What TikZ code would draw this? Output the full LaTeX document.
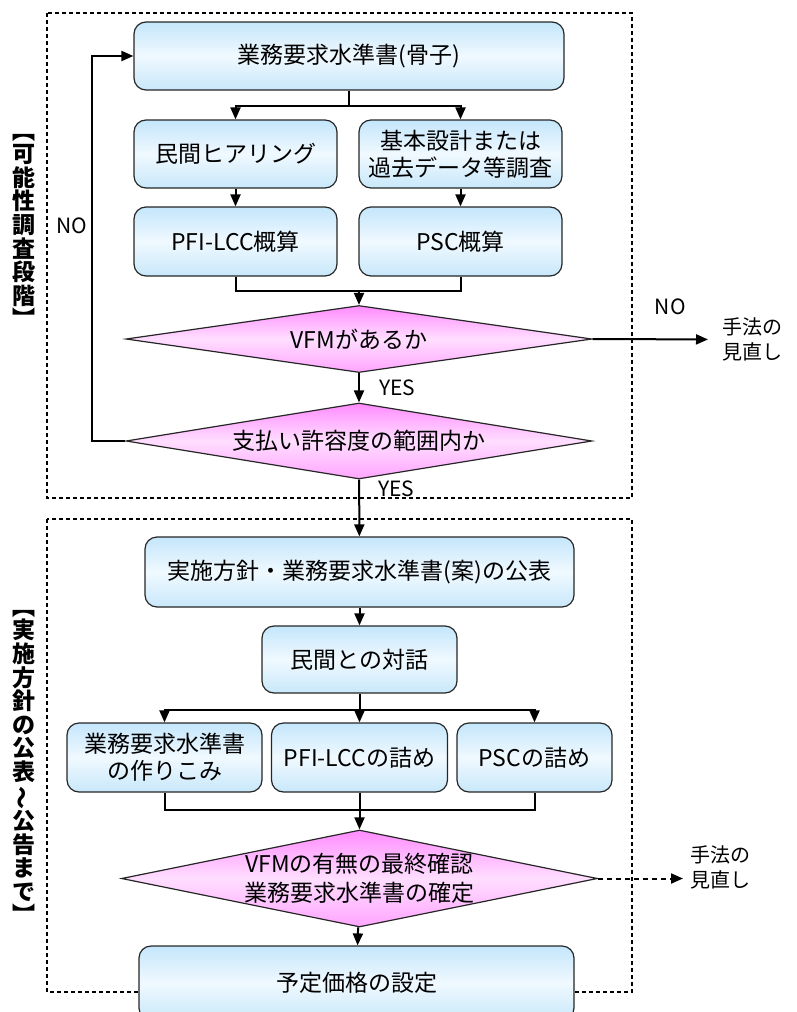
\documentclass[tikz,border=0pt]{standalone}
\usepackage{fontspec}
\setmainfont{Noto Sans CJK JP}
\usepackage{graphicx}
\usepackage{tikz}
\usetikzlibrary{calc, positioning, arrows.meta, shapes.geometric}
\definecolor{boxtop}{RGB}{196,230,251}
\definecolor{boxmid}{RGB}{240,249,255}
\definecolor{boxbot}{RGB}{200,232,250}
\definecolor{dectop}{RGB}{255,140,255}
\definecolor{decmid}{RGB}{255,222,255}
\definecolor{decbot}{RGB}{255,165,255}

\begin{document}
\begin{tikzpicture}[x=1pt, y=-1pt, >={Triangle[length=12pt,width=10pt]},
  blk/.style={draw=black!85, line width=1.2pt, rounded corners=12pt, top color=boxtop, bottom color=boxbot, middle color=boxmid, align=center, inner sep=0pt, font=\fontsize{23}{27}\selectfont},
  dec/.style={diamond, draw=black!85, line width=1.2pt, top color=dectop, bottom color=decbot, middle color=decmid, inner sep=0pt, align=center, font=\fontsize{23}{29}\selectfont},
  dectxt/.style={inner sep=0pt, align=center, font=\fontsize{23}{29}\selectfont},
  lnk/.style={line width=2pt},
  lbl/.style={inner sep=0pt, font=\fontsize{21}{25}\selectfont},
  side/.style={anchor=west, inner sep=0pt, align=left, font=\fontsize{20}{25}\selectfont},
  vlbl/.style={inner sep=0pt, align=center, font=\fontsize{23}{23.6}\selectfont\bfseries},
  frm/.style={line width=1.2pt, dash pattern=on 4pt off 3pt}]
  \useasboundingbox (0,0) rectangle (796,1012);
  \clip (0,0) rectangle (796,1012);

  % phase frames
  \draw[frm] (47,13) rectangle (632,498);
  \draw[frm] (47,519) rectangle (632,992);
  \node[vlbl] (ph1) at (24,231) {︻\\可\\能\\性\\調\\査\\段\\階\\︼};
  \node[vlbl] (ph2) at (24,767) {︻\\実\\施\\方\\針\\の\\公\\表\\\rotatebox[origin=c]{90}{～}\\公\\告\\ま\\で\\︼};

  % feasibility study
  \node[blk, minimum width=430pt, minimum height=68pt] (req) at (349,56) {業務要求水準書(骨子)};
  \node[blk, minimum width=203pt, minimum height=68pt] (hear) at (235.5,154) {民間ヒアリング};
  \node[blk, minimum width=203pt, minimum height=68pt] (basic) at (460.5,154) {基本設計または\\過去データ等調査};
  \node[blk, minimum width=203pt, minimum height=69pt] (lcc) at (235.5,241.5) {PFI-LCC概算};
  \node[blk, minimum width=203pt, minimum height=69pt] (psc) at (460.5,241.5) {PSC概算};
  \node[dec, aspect=7, minimum width=466pt, minimum height=67pt] (vfm) at (359,339) {VFMがあるか};
  \node[dec, aspect=6.1, minimum width=466pt, minimum height=76pt] (pay) at (359,441) {支払い許容度の範囲内か};
  \node[side] (rev1) at (722,339.5) {手法の\\見直し};

  % public announcement
  \node[blk, minimum width=429pt, minimum height=70pt] (pub) at (359.5,572) {実施方針・業務要求水準書(案)の公表};
  \node[blk, minimum width=195pt, minimum height=67pt] (talk) at (359.5,659.5) {民間との対話};
  \node[blk, minimum width=195pt, minimum height=69pt] (spec) at (164.5,757.5) {業務要求水準書\\の作りこみ};
  \node[blk, minimum width=176pt, minimum height=69pt] (lcc2) at (359.5,757.5) {PFI-LCCの詰め};
  \node[blk, minimum width=155pt, minimum height=69pt] (psc2) at (534.5,757.5) {PSCの詰め};
  \node[dec, aspect=4.9, minimum width=476pt, minimum height=97pt, label={[dectxt]center:VFMの有無の最終確認\\業務要求水準書の確定}] (fin) at (359.5,878.5) {};
  \node[blk, minimum width=435pt, minimum height=74pt] (price) at (356.5,983) {予定価格の設定};
  \node[side] (rev2) at (690,867.5) {手法の\\見直し};

  \draw[lnk] (req.south) -- ++(0,15) coordinate (s1);
  \draw[lnk,->] (s1) -| (hear.north);
  \draw[lnk,->] (s1) -| (basic.north);
  \draw[lnk,->] (hear) -- (lcc);
  \draw[lnk,->] (basic) -- (psc);
  \coordinate (m1) at ($(vfm.north)+(0,-14)$);
  \draw[lnk] (lcc.south) |- (m1) -| (psc.south);
  \draw[lnk,->] (m1) -- (vfm.north);
  \draw[lnk,->] (vfm) -- node[lbl, right=19pt] (yes1) {YES} (pay);
  \draw[lnk,->, shorten >=14pt] (vfm.east) -- node[lbl, pos=0.6, above=24pt] (no1) {NO} (rev1.west);
  \draw[lnk,->] (pay.west) -- ++(-33,0) |- node[lbl, pos=0.28, left=4pt] (no2) {NO} (req.west);
  \draw[lnk,->] (pay) -- node[lbl, pos=0.16, right=18pt] (yes2) {YES} (pub);

  \draw[lnk,->] (pub) -- (talk);
  \draw[lnk] (talk.south) -- ++(0,16) coordinate (s2);
  \draw[lnk,->] (s2) -| (spec.north);
  \draw[lnk,->] (s2) -- (lcc2.north);
  \draw[lnk,->] (s2) -| (psc2.north);
  \coordinate (m2) at ($(fin.north)+(0,-19)$);
  \draw[lnk] (spec.south) |- (m2) -| (psc2.south);
  \draw[lnk,->] (lcc2.south) -- (fin.north);
  \draw[lnk,->] (fin) -- (price);
  \draw[lnk,->, dash pattern=on 5pt off 4pt, shorten >=7pt] (fin.east) -- (fin.east -| rev2.west);
\end{tikzpicture}
\end{document}
